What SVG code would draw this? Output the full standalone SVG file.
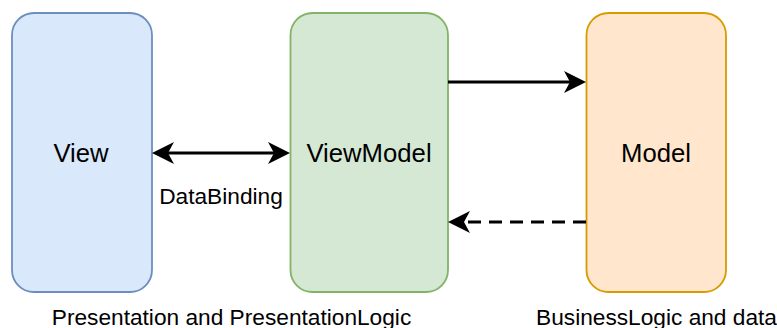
<svg xmlns="http://www.w3.org/2000/svg" width="777" height="328" viewBox="0 0 777 328">
<style>
text{font-family:"Liberation Sans",Arial,sans-serif;fill:#000;text-anchor:middle}
.n{font-size:25.7px}
.l{font-size:22.7px}
.c{fill:none;stroke:#000;stroke-width:3}
</style>
<defs>
<marker id="ah" viewBox="0 0 22 22" refX="12" refY="11" markerWidth="22" markerHeight="22" markerUnits="userSpaceOnUse" orient="auto-start-reverse">
<path d="M0,0 L22,11 L0,22 L6,11 Z" fill="#000"/>
</marker>
</defs>
<rect width="777" height="328" fill="#fff"/>
<g id="view">
<rect x="12" y="13" width="140" height="279" rx="22" fill="#dae8fc" stroke="#6c8ebf" stroke-width="1.8"/>
<text class="n" x="81" y="162">View</text>
</g>
<g id="viewmodel">
<rect x="290.5" y="13" width="157.5" height="279" rx="22" fill="#d5e8d4" stroke="#82b366" stroke-width="1.8"/>
<text class="n" x="369" y="162">ViewModel</text>
</g>
<g id="model">
<rect x="586.5" y="13" width="139.5" height="279" rx="22" fill="#ffe6cc" stroke="#d79b00" stroke-width="1.8"/>
<text class="n" x="656" y="162">Model</text>
</g>
<g id="connectors">
<path class="c" d="M162,153 L280,153" marker-start="url(#ah)" marker-end="url(#ah)"/>
<path class="c" d="M448,82 L576,82" marker-end="url(#ah)"/>
<path class="c" d="M586,222 L458,222" stroke-dasharray="13 8" marker-end="url(#ah)"/>
<text class="l" x="221" y="204">DataBinding</text>
</g>
<text class="l" x="231.5" y="325">Presentation and PresentationLogic</text>
<text class="l" x="656.5" y="325">BusinessLogic and data</text>
</svg>
